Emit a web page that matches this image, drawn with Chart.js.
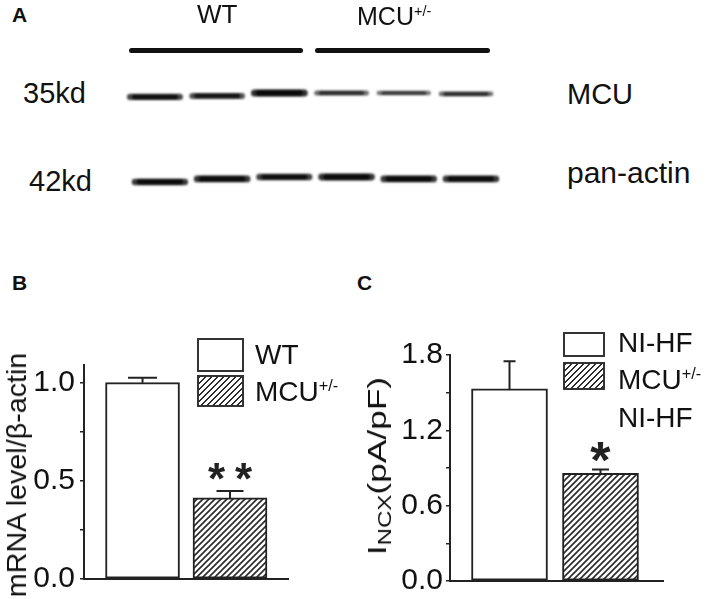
<!DOCTYPE html>
<html>
<head>
<meta charset="utf-8">
<script src="https://cdn.jsdelivr.net/npm/chart.js@4.4.1/dist/chart.umd.min.js"></script>
<style>
    html, body { margin: 0; padding: 0; background: #ffffff; }
    #page { position: relative; width: 709px; height: 599px; overflow: hidden; background: #ffffff; }
    canvas { position: absolute; }
    .t { position: absolute; font-family: "Liberation Sans", Arial, sans-serif; line-height: 1; white-space: nowrap; color: #111; }
    .panel { font-weight: bold; font-size: 21px; }
    .sup { position: relative; top: -0.62em; font-size: 0.58em; }
    .sub { position: relative; top: 0.3em; font-size: 0.68em; }
    .groupBar { position: absolute; height: 5px; background: #111; border-radius: 3px; }
    .box { position: absolute; box-sizing: border-box; border: 2px solid #333; background: #ffffff; }
    .hatch { background: repeating-linear-gradient(135deg, #2a2a2a 0 1.3px, #ffffff 1.3px 4.2px); }
    .ytitle { position: absolute; font-family: "Liberation Sans", Arial, sans-serif; line-height: 1; white-space: nowrap; color: #111; }
</style>
</head>
<body>
<div id="page">
    <canvas id="blotChart" width="400" height="169" style="left:112px;top:52px"></canvas>
    <canvas id="mrnaChart" width="300" height="299" style="left:0px;top:300px"></canvas>
    <canvas id="ncxChart" width="354" height="299" style="left:355px;top:300px"></canvas>

    <!-- panel A labels -->
    <div class="t panel" style="left:12px;top:4px">A</div>
    <div class="t" style="left:197px;top:1px;font-size:26px">WT</div>
    <div class="t" style="left:357px;top:4px;font-size:25px">MCU<span class="sup">+/-</span></div>
    <div class="groupBar" style="left:129px;top:48px;width:174px"></div>
    <div class="groupBar" style="left:315px;top:48px;width:175px"></div>
    <div class="t" style="left:23px;top:79px;font-size:29px">35kd</div>
    <div class="t" style="left:29px;top:167px;font-size:29px">42kd</div>
    <div class="t" style="left:567px;top:80px;font-size:29px">MCU</div>
    <div class="t" style="left:567px;top:158px;font-size:30px">pan-actin</div>

    <!-- panel B labels -->
    <div class="t panel" style="left:12px;top:272px">B</div>
    <div class="box" style="left:197px;top:338px;width:47px;height:34px"></div>
    <div class="box hatch" style="left:197px;top:375px;width:47px;height:32px"></div>
    <div class="t" style="left:255px;top:341px;font-size:28px">WT</div>
    <div class="t" style="left:255px;top:378px;font-size:28px">MCU<span class="sup">+/-</span></div>
    <div class="ytitle" id="titleB" style="left:17px;top:475px;font-size:28px" data-len="245">mRNA level/β-actin</div>

    <!-- panel C labels -->
    <div class="t panel" style="left:357px;top:272px">C</div>
    <div class="box" style="left:563px;top:332px;width:42px;height:25px"></div>
    <div class="box hatch" style="left:563px;top:362px;width:42px;height:28px"></div>
    <div class="t" style="left:618px;top:329px;font-size:28px">NI-HF</div>
    <div class="t" style="left:618px;top:366px;font-size:28px">MCU<span class="sup">+/-</span></div>
    <div class="t" style="left:618px;top:404px;font-size:28px">NI-HF</div>
    <div class="ytitle" id="titleC" style="left:377px;top:466px;font-size:26px" data-len="178">I<span class="sub">NCX</span>(pA/pF)</div>
</div>

<script>
// ---- data ----
var laneNumbers = [1, 2, 3, 4, 5, 6];
var mcuBandIntensity = [0.8, 0.72, 1.0, 0.5, 0.4, 0.48];
var actinBandIntensity = [0.9, 0.95, 0.85, 0.95, 0.92, 0.9];
var mcuBandDrift = [0.032, 0.02, -0.015, -0.015, -0.015, -0.004];
var actinBandDrift = [0.038, 0.002, -0.021, -0.021, 0.002, 0.002];

var mrnaGroups = ['WT', 'MCU+/-'];
var mrnaLevels = [1.0, 0.413];
var mrnaErrors = [0.025, 0.035];
var mrnaMarks = ['', '**'];
var mrnaTickLabels = [0, 0.5, 1.0];

var ncxGroups = ['NI-HF', 'MCU+/- NI-HF'];
var ncxCurrents = [1.53, 0.857];
var ncxErrors = [0.22, 0.031];
var ncxMarks = ['', '*'];
var ncxTickLabels = [0, 0.6, 1.2, 1.8];

var FONT = '"Liberation Sans", Arial, sans-serif';
var INK = '#222222';

document.addEventListener("DOMContentLoaded", function () {

    // Stretch the rotated axis titles to the length they have in the figure
    document.querySelectorAll('.ytitle').forEach(function (el) {
        var k = parseFloat(el.dataset.len) / el.offsetWidth;
        el.style.transform = 'translate(-50%, -50%) rotate(-90deg) scaleX(' + k.toFixed(3) + ')';
    });

    // Diagonal hatch used for the MCU+/- bars
    function makeHatch() {
        var size = 6;
        var tile = document.createElement('canvas');
        tile.width = size;
        tile.height = size;
        var t = tile.getContext('2d');
        t.fillStyle = '#ffffff';
        t.fillRect(0, 0, size, size);
        t.strokeStyle = '#2a2a2a';
        t.lineWidth = 1.6;
        t.beginPath();
        t.moveTo(0, size); t.lineTo(size, 0);
        t.moveTo(-size / 2, size / 2); t.lineTo(size / 2, -size / 2);
        t.moveTo(size / 2, size * 1.5); t.lineTo(size * 1.5, size / 2);
        t.stroke();
        return t.createPattern(tile, 'repeat');
    }
    var hatch = makeHatch();

    // ---------------- Panel A: western blot bands ----------------
    var bandHalfWidth = 0.4;
    var actinShift = 0.08;
    var bandDatasets = [];

    function addBandRow(row, intensities, drifts, shift) {
        laneNumbers.forEach(function (lane, i) {
            var y = row + drifts[i];
            // soft outer halo
            bandDatasets.push({
                data: [
                    { x: lane + shift - bandHalfWidth, y: y },
                    { x: lane + shift + bandHalfWidth, y: y }
                ],
                borderColor: 'rgba(8,8,8,' + (0.35 + 0.5 * intensities[i]).toFixed(2) + ')',
                borderWidth: 3 + 4 * intensities[i],
                borderCapStyle: 'round',
                pointRadius: 0
            });
            // dense core
            bandDatasets.push({
                data: [
                    { x: lane + shift - bandHalfWidth * 0.85, y: y },
                    { x: lane + shift + bandHalfWidth * 0.85, y: y }
                ],
                borderColor: 'rgba(0,0,0,' + (0.5 + 0.5 * intensities[i]).toFixed(2) + ')',
                borderWidth: 1.5 + 3 * intensities[i],
                borderCapStyle: 'round',
                pointRadius: 0
            });
        });
    }
    addBandRow(0, mcuBandIntensity, mcuBandDrift, 0);
    addBandRow(1, actinBandIntensity, actinBandDrift, actinShift);

    var blurPlugin = {
        id: 'bandBlur',
        beforeDatasetsDraw: function (chart) {
            chart.ctx.save();
            chart.ctx.filter = 'blur(1.2px)';
        },
        afterDatasetsDraw: function (chart) {
            chart.ctx.restore();
        }
    };

    new Chart(document.getElementById('blotChart').getContext('2d'), {
        type: 'line',
        data: { datasets: bandDatasets },
        options: {
            responsive: false,
            animation: false,
            layout: { padding: 0 },
            plugins: { legend: { display: false }, tooltip: { enabled: false } },
            scales: {
                x: { type: 'linear', display: false, min: 0.31, max: 6.74 },
                y: { type: 'linear', display: false, min: -0.5, max: 1.5, reverse: true }
            }
        },
        plugins: [blurPlugin]
    });

    // ---------------- error bars + significance marks ----------------
    var errorBarPlugin = {
        id: 'errorBars',
        afterDatasetsDraw: function (chart, args, opts) {
            var ctx = chart.ctx;
            var yScale = chart.scales.y;
            var meta = chart.getDatasetMeta(0);
            var points = chart.data.datasets[0].data;
            ctx.save();
            ctx.strokeStyle = INK;
            ctx.fillStyle = INK;
            ctx.lineWidth = 2;
            meta.data.forEach(function (bar, i) {
                var top = yScale.getPixelForValue(points[i].y + opts.errors[i]);
                var half = opts.capWidths[i] / 2;
                ctx.beginPath();
                ctx.moveTo(bar.x, bar.y);
                ctx.lineTo(bar.x, top);
                ctx.moveTo(bar.x - half, top);
                ctx.lineTo(bar.x + half, top);
                ctx.stroke();
                if (opts.marks[i]) {
                    ctx.font = 'bold ' + opts.markSize + 'px ' + FONT;
                    ctx.textAlign = 'center';
                    ctx.textBaseline = 'alphabetic';
                    if ('letterSpacing' in ctx) ctx.letterSpacing = opts.markSpacing + 'px';
                    var m = ctx.measureText(opts.marks[i]);
                    ctx.fillText(opts.marks[i], bar.x + opts.markSpacing / 2, top - opts.markGap - m.actualBoundingBoxDescent);
                }
            });
            ctx.restore();
        }
    };

    function createBarChart(canvasId, groups, values, errors, marks, tickLabels, cfg) {
        var data = groups.map(function (g, i) { return { x: i + 1, y: values[i] }; });
        return new Chart(document.getElementById(canvasId).getContext('2d'), {
            type: 'bar',
            data: {
                datasets: [{
                    label: groups.join(' / '),
                    data: data,
                    backgroundColor: ['#ffffff', hatch],
                    borderColor: INK,
                    borderWidth: 2,
                    borderSkipped: false,
                    barThickness: cfg.barThickness
                }]
            },
            options: {
                responsive: false,
                animation: false,
                layout: { padding: cfg.padding },
                plugins: {
                    legend: { display: false },
                    tooltip: { enabled: false },
                    errorBars: {
                        errors: errors,
                        marks: marks,
                        capWidths: cfg.capWidths,
                        markSize: cfg.markSize,
                        markSpacing: cfg.markSpacing,
                        markGap: cfg.markGap
                    }
                },
                scales: {
                    x: {
                        type: 'linear',
                        offset: false,
                        min: cfg.xMin,
                        max: cfg.xMax,
                        ticks: { display: false },
                        grid: { display: false, offset: false },
                        border: { display: true, color: INK, width: 2 },
                        afterFit: function (scale) { scale.height = 0; }
                    },
                    y: {
                        min: 0,
                        max: cfg.yMax,
                        ticks: {
                            stepSize: cfg.minorStep,
                            includeBounds: false,
                            autoSkip: false,
                            padding: cfg.tickPadding,
                            color: '#111',
                            font: { family: FONT, size: 30, lineHeight: 1 },
                            callback: function (value) {
                                var isMajor = tickLabels.some(function (t) { return Math.abs(t - value) < 1e-6; });
                                return isMajor ? value.toFixed(1) : '';
                            }
                        },
                        grid: {
                            drawOnChartArea: false,
                            drawTicks: true,
                            tickLength: 4,
                            lineWidth: 1.5,
                            tickColor: INK
                        },
                        border: { display: true, color: INK, width: 2 },
                        afterFit: function (scale) { scale.width = cfg.axisWidth; }
                    }
                }
            },
            plugins: [errorBarPlugin]
        });
    }

    // ---------------- Panel B: mRNA level ----------------
    createBarChart('mrnaChart', mrnaGroups, mrnaLevels, mrnaErrors, mrnaMarks, mrnaTickLabels, {
        axisWidth: 84,
        padding: { top: 65, right: 12, bottom: 15, left: 0 },
        xMin: 0.331, xMax: 2.663,
        yMax: 1.09,
        minorStep: 0.25,
        tickPadding: 5,
        barThickness: 74,
        capWidths: [29, 27],
        markSize: 44,
        markSpacing: 10,
        markGap: 11
    });

    // ---------------- Panel C: I_NCX ----------------
    createBarChart('ncxChart', ncxGroups, ncxCurrents, ncxErrors, ncxMarks, ncxTickLabels, {
        axisWidth: 95,
        padding: { top: 55, right: 46, bottom: 15, left: 0 },
        xMin: 0.346, xMax: 2.687,
        yMax: 1.8,
        minorStep: 0.3,
        tickPadding: 3,
        barThickness: 76,
        capWidths: [12, 17],
        markSize: 52,
        markSpacing: 0,
        markGap: 8
    });
});
</script>
</body>
</html>
